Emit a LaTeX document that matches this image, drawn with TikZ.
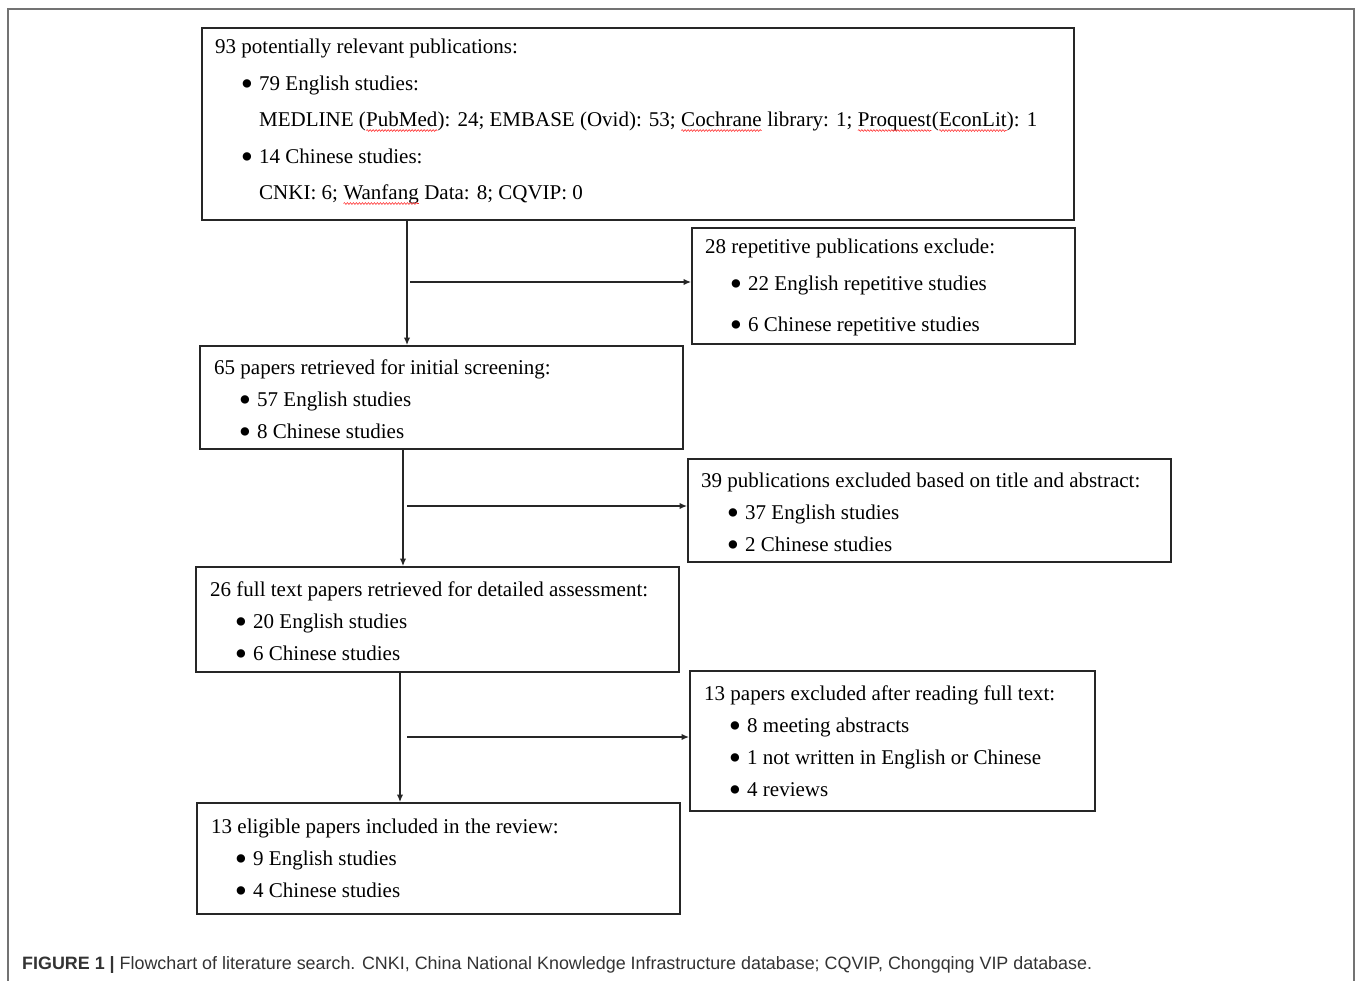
\documentclass[tikz,border=0pt]{standalone}
\usepackage{fontspec}
\setmainfont{Liberation Serif}
\newfontfamily\capfont{Liberation Sans}
\usetikzlibrary{arrows.meta,decorations.pathmorphing}
\newcommand{\sperr}[1]{\tikz[baseline=(w.base)]{\node[inner sep=0pt,outer sep=0pt] (w) {#1};\draw[red!80, line width=0.6pt, decorate, decoration={snake,amplitude=0.9pt,segment length=3pt}] ([yshift=-4.5pt]w.base west) -- ([yshift=-4.5pt]w.base east);}}
\newcommand{\tl}[4]{\node[txt] (#1) at (#2,#3) {#4};}
\newcommand{\bl}[4]{\node[bul] (#1b) at (#2-12,#3-2) {•};\node[txt] (#1) at (#2,#3) {#4};}
\begin{document}
\begin{tikzpicture}[x=1pt,y=-1pt,
  box/.style={draw=black!85, line width=1.8pt, inner sep=0pt, anchor=north west},
  txt/.style={anchor=base west, inner sep=0pt, font=\fontsize{21}{25}\selectfont},
  bul/.style={anchor=center, inner sep=0pt, font=\fontsize{35}{35}\selectfont},
  arr/.style={draw=black!85, line width=1.3pt, -{Latex[length=7.5pt,width=6.5pt]}},
  outerframe/.style={draw=black!55, line width=1.8pt},
]
\useasboundingbox (0,0) rectangle (1357,980);
\draw[outerframe] (8,985) -- (8,9) -- (1354,9) -- (1354,985);

% boxes
\node[box, minimum width=872pt, minimum height=192pt] (b1) at (201,27) {};
\node[box, minimum width=383pt, minimum height=116pt] (b2) at (691,227) {};
\node[box, minimum width=483pt, minimum height=103pt] (b3) at (199,345) {};
\node[box, minimum width=483pt, minimum height=103pt] (b4) at (687,458) {};
\node[box, minimum width=483pt, minimum height=105pt] (b5) at (195,566) {};
\node[box, minimum width=405pt, minimum height=140pt] (b6) at (689,670) {};
\node[box, minimum width=483pt, minimum height=111pt] (b7) at (196,802) {};

% box 1
\tl{t11}{215}{53}{93 potentially relevant publications:}
\bl{t12}{259}{90}{79 English studies:}
\tl{t13}{259}{126}{MEDLINE (\sperr{PubMed}): 24; EMBASE (Ovid): 53; \sperr{Cochrane} library: 1; \sperr{Proquest}(\sperr{EconLit}): 1}
\bl{t14}{259}{163}{14 Chinese studies:}
\tl{t15}{259}{199}{CNKI: 6; \sperr{Wanfang} Data: 8; CQVIP: 0}

% box 2
\tl{t21}{705}{253}{28 repetitive publications exclude:}
\bl{t22}{748}{290}{22 English repetitive studies}
\bl{t23}{748}{331}{6 Chinese repetitive studies}

% box 3
\tl{t31}{214}{374}{65 papers retrieved for initial screening:}
\bl{t32}{257}{406}{57 English studies}
\bl{t33}{257}{438}{8 Chinese studies}

% box 4
\tl{t41}{701}{487}{39 publications excluded based on title and abstract:}
\bl{t42}{745}{519}{37 English studies}
\bl{t43}{745}{551}{2 Chinese studies}

% box 5
\tl{t51}{210}{596}{26 full text papers retrieved for detailed assessment:}
\bl{t52}{253}{628}{20 English studies}
\bl{t53}{253}{660}{6 Chinese studies}

% box 6
\tl{t61}{704}{700}{13 papers excluded after reading full text:}
\bl{t62}{747}{732}{8 meeting abstracts}
\bl{t63}{747}{764}{1 not written in English or Chinese}
\bl{t64}{747}{796}{4 reviews}

% box 7
\tl{t71}{211}{833}{13 eligible papers included in the review:}
\bl{t72}{253}{865}{9 English studies}
\bl{t73}{253}{897}{4 Chinese studies}

% connectors
\coordinate (v1) at (407,0);
\coordinate (v2) at (403,0);
\coordinate (v3) at (400,0);
\coordinate (h1) at (410,282);
\coordinate (h2) at (407,506);
\coordinate (h3) at (407,737);
\draw[arr] (v1 |- b1.south) -- (v1 |- b3.north);
\draw[arr] (h1) -- (h1 -| b2.west);
\draw[arr] (v2 |- b3.south) -- (v2 |- b5.north);
\draw[arr] (h2) -- (h2 -| b4.west);
\draw[arr] (v3 |- b5.south) -- (v3 |- b7.north);
\draw[arr] (h3) -- (h3 -| b6.west);

% caption
\node[anchor=base west, inner sep=0pt, text=black!80, font=\capfont\fontsize{17.9}{18}\selectfont] (cap) at (22,969) {\textbf{FIGURE 1 |} Flowchart of literature search. CNKI, China National Knowledge Infrastructure database; CQVIP, Chongqing VIP database.};
\end{tikzpicture}
\end{document}
